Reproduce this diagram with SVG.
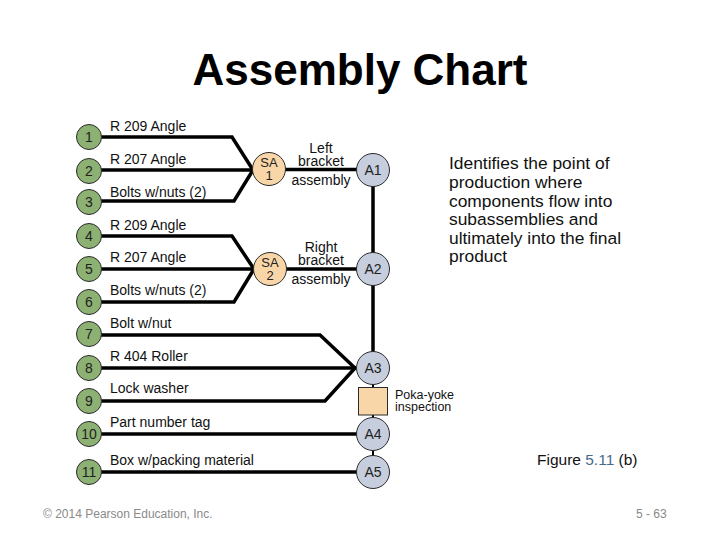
<svg xmlns="http://www.w3.org/2000/svg" width="720" height="540" viewBox="0 0 720 540">
<style>
text{font-family:"Liberation Sans",Arial,sans-serif;fill:#111}
.title{font-size:44px;font-weight:bold;text-anchor:middle;fill:#000}
.lbl{font-size:14px}
.mid{font-size:14px;text-anchor:middle}
.num{font-size:14px;text-anchor:middle;fill:#222}
.sat{font-size:13px;text-anchor:middle;fill:#222}
.pk{font-size:12.5px}
.para{font-size:17.4px}
.part{fill:#8db173;stroke:#2a2a2a;stroke-width:1}
.sa{fill:#f9d6a8;stroke:#2a2a2a;stroke-width:1}
.asm{fill:#c6cddc;stroke:#2a2a2a;stroke-width:1}
.ln{fill:none;stroke:#000;stroke-width:3.5;stroke-linejoin:miter}
.thin{fill:none;stroke:#000;stroke-width:2}
.foot{font-size:12px;fill:#8a8a8a}
</style>
<text class="title" x="360" y="85">Assembly Chart</text>

<g id="connectors">
<path class="ln" d="M100,137 H232 L253,170"/>
<path class="ln" d="M100,170 H253"/>
<path class="ln" d="M100,201 H234 L253,170"/>
<path class="ln" d="M285,169.5 H357"/>
<path class="ln" d="M100,236 H232 L254,269"/>
<path class="ln" d="M100,269 H254"/>
<path class="ln" d="M100,302 H234 L254,269"/>
<path class="ln" d="M286,269 H357"/>
<path class="ln" d="M373,186 V253"/>
<path class="ln" d="M373,285 V352"/>
<path class="ln" d="M100,335 H320 L355,368"/>
<path class="ln" d="M100,368 H356"/>
<path class="ln" d="M100,401 H325 L355,368"/>
<path class="thin" d="M373,384 V388"/>
<path class="thin" d="M373,415 V418"/>
<path class="ln" d="M100,434 H357"/>
<path class="thin" d="M373,450 V456"/>
<path class="ln" d="M100,472 H357"/>
</g>

<g id="n1"><circle class="part" cx="89" cy="137" r="12.5"/><text class="num" x="89" y="142">1</text><text class="lbl" x="110" y="131">R 209 Angle</text></g>
<g id="n2"><circle class="part" cx="89" cy="171" r="12.5"/><text class="num" x="89" y="176">2</text><text class="lbl" x="110" y="164">R 207 Angle</text></g>
<g id="n3"><circle class="part" cx="89" cy="202" r="12.5"/><text class="num" x="89" y="207">3</text><text class="lbl" x="110" y="197">Bolts w/nuts (2)</text></g>
<g id="n4"><circle class="part" cx="89" cy="236" r="12.5"/><text class="num" x="89" y="241">4</text><text class="lbl" x="110" y="230">R 209 Angle</text></g>
<g id="n5"><circle class="part" cx="89" cy="269" r="12.5"/><text class="num" x="89" y="274">5</text><text class="lbl" x="110" y="262">R 207 Angle</text></g>
<g id="n6"><circle class="part" cx="89" cy="302" r="12.5"/><text class="num" x="89" y="307">6</text><text class="lbl" x="110" y="295">Bolts w/nuts (2)</text></g>
<g id="n7"><circle class="part" cx="89" cy="334" r="12.5"/><text class="num" x="89" y="339">7</text><text class="lbl" x="110" y="328">Bolt w/nut</text></g>
<g id="n8"><circle class="part" cx="89" cy="368" r="12.5"/><text class="num" x="89" y="373">8</text><text class="lbl" x="110" y="361">R 404 Roller</text></g>
<g id="n9"><circle class="part" cx="89" cy="401" r="12.5"/><text class="num" x="89" y="406">9</text><text class="lbl" x="110" y="393">Lock washer</text></g>
<g id="n10"><circle class="part" cx="89" cy="434" r="12.5"/><text class="num" x="89" y="439">10</text><text class="lbl" x="110" y="427">Part number tag</text></g>
<g id="n11"><circle class="part" cx="89" cy="472" r="12.5"/><text class="num" x="89" y="477">11</text><text class="lbl" x="110" y="465">Box w/packing material</text></g>

<g id="sa1"><circle class="sa" cx="269" cy="169" r="16.5"/><text class="sat" x="269" y="167">SA</text><text class="sat" x="269" y="180">1</text></g>
<g id="sa2"><circle class="sa" cx="270" cy="269" r="16.5"/><text class="sat" x="270" y="267">SA</text><text class="sat" x="270" y="280">2</text></g>

<g id="lbl-left"><text class="mid" x="321" y="153">Left</text><text class="mid" x="321" y="166">bracket</text><text class="mid" x="321" y="185">assembly</text></g>
<g id="lbl-right"><text class="mid" x="321" y="252">Right</text><text class="mid" x="321" y="265">bracket</text><text class="mid" x="321" y="284">assembly</text></g>

<g id="a1"><circle class="asm" cx="373" cy="170" r="16.5"/><text class="num" x="373" y="175">A1</text></g>
<g id="a2"><circle class="asm" cx="373" cy="269" r="16.5"/><text class="num" x="373" y="274">A2</text></g>
<g id="a3"><circle class="asm" cx="373" cy="368" r="16.5"/><text class="num" x="373" y="373">A3</text></g>
<g id="poka"><rect class="sa" x="358.5" y="387.5" width="29" height="27.5"/><text class="pk" x="395" y="398.5">Poka-yoke</text><text class="pk" x="395" y="411">inspection</text></g>
<g id="a4"><circle class="asm" cx="373" cy="434" r="16.5"/><text class="num" x="373" y="439">A4</text></g>
<g id="a5"><circle class="asm" cx="373" cy="472" r="16.5"/><text class="num" x="373" y="477">A5</text></g>

<g id="note">
<text class="para" x="449" y="169">Identifies the point of</text>
<text class="para" x="449" y="188">production where</text>
<text class="para" x="449" y="206.5">components flow into</text>
<text class="para" x="449" y="225">subassemblies and</text>
<text class="para" x="449" y="243.5">ultimately into the final</text>
<text class="para" x="449" y="262">product</text>
</g>

<text x="537" y="465" style="font-size:15.5px">Figure <tspan style="fill:#4a6a8a">5.11</tspan> (b)</text>
<text class="foot" x="43" y="518">© 2014 Pearson Education, Inc.</text>
<text class="foot" x="636" y="518">5 - 63</text>
</svg>
